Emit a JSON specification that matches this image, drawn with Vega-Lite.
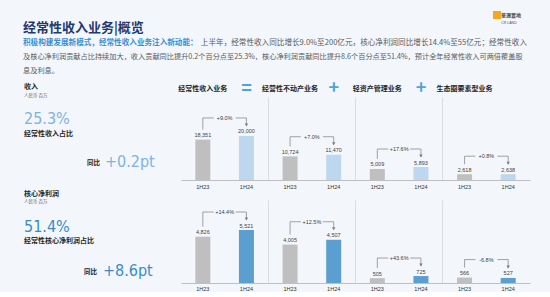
{
  "$schema": "https://vega.github.io/schema/vega-lite/v6.json",
  "background": "#F3F7FC",
  "padding": 0,
  "bounds": "flush",
  "spacing": 20,
  "config": {"view": {"stroke": null}, "font": "Noto Sans CJK SC"},
  "datasets": {
    "header": [
      {"role": "title", "line": "title", "col": "left", "text": "经常性收入业务|概览"},
      {"role": "lead", "line": "p1", "col": "left", "text": "积极构建发展新模式，经常性收入业务注入新动能："},
      {"role": "p1rest", "line": "p1", "col": "right", "text": "上半年，经常性收入同比增长9.0%至200亿元，核心净利润同比增长14.4%至55亿元；经常性收入"},
      {"role": "body", "line": "p2", "col": "left", "text": "及核心净利润贡献占比持续加大，收入贡献同比提升0.2个百分点至25.3%，核心净利润贡献同比提升8.6个百分点至51.4%，预计全年经常性收入可两倍覆盖股"},
      {"role": "body", "line": "p3", "col": "left", "text": "息及利息。"},
      {"role": "logoMark", "line": "logo", "col": "right", "text": ""},
      {"role": "logoText", "line": "logo", "col": "right", "text": "華潤置地"},
      {"role": "logoSub", "line": "logo", "col": "right", "text": "CR LAND"}
    ],
    "left": [
      {"metric": "收入", "role": "head", "line": "head", "col": "main", "text": "收入"},
      {"metric": "收入", "role": "unit", "line": "unit", "col": "main", "text": "人民币 百万"},
      {"metric": "收入", "role": "share", "line": "share", "col": "main", "text": "25.3%"},
      {"metric": "收入", "role": "shareLabel", "line": "shareLabel", "col": "main", "text": "经常性收入占比"},
      {"metric": "收入", "role": "yoyLabel", "line": "yoy", "col": "yoy", "text": "同比"},
      {"metric": "收入", "role": "yoy", "line": "yoy", "col": "yoy", "text": "+0.2pt"},
      {"metric": "核心净利润", "role": "head", "line": "head", "col": "main", "text": "核心净利润"},
      {"metric": "核心净利润", "role": "unit", "line": "unit", "col": "main", "text": "人民币 百万"},
      {"metric": "核心净利润", "role": "share", "line": "share", "col": "main", "text": "51.4%"},
      {"metric": "核心净利润", "role": "shareLabel", "line": "shareLabel", "col": "main", "text": "经常性核心净利润占比"},
      {"metric": "核心净利润", "role": "yoyLabel", "line": "yoy", "col": "yoy", "text": "同比"},
      {"metric": "核心净利润", "role": "yoy", "line": "yoy", "col": "yoy", "text": "+8.6pt"}
    ],
    "bars": [
      {"metric": "收入", "seg": "经常性收入业务", "period": "1H23", "slot": "经常性收入业务|1H23", "value": 18351},
      {"metric": "收入", "seg": "经常性收入业务", "period": "1H24", "slot": "经常性收入业务|1H24", "value": 20000},
      {"metric": "收入", "seg": "经营性不动产业务", "period": "1H23", "slot": "经营性不动产业务|1H23", "value": 10724},
      {"metric": "收入", "seg": "经营性不动产业务", "period": "1H24", "slot": "经营性不动产业务|1H24", "value": 11470},
      {"metric": "收入", "seg": "轻资产管理业务", "period": "1H23", "slot": "轻资产管理业务|1H23", "value": 5009},
      {"metric": "收入", "seg": "轻资产管理业务", "period": "1H24", "slot": "轻资产管理业务|1H24", "value": 5893},
      {"metric": "收入", "seg": "生态圈要素型业务", "period": "1H23", "slot": "生态圈要素型业务|1H23", "value": 2618},
      {"metric": "收入", "seg": "生态圈要素型业务", "period": "1H24", "slot": "生态圈要素型业务|1H24", "value": 2638},
      {"metric": "核心净利润", "seg": "经常性收入业务", "period": "1H23", "slot": "经常性收入业务|1H23", "value": 4826},
      {"metric": "核心净利润", "seg": "经常性收入业务", "period": "1H24", "slot": "经常性收入业务|1H24", "value": 5521},
      {"metric": "核心净利润", "seg": "经营性不动产业务", "period": "1H23", "slot": "经营性不动产业务|1H23", "value": 4005},
      {"metric": "核心净利润", "seg": "经营性不动产业务", "period": "1H24", "slot": "经营性不动产业务|1H24", "value": 4507},
      {"metric": "核心净利润", "seg": "轻资产管理业务", "period": "1H23", "slot": "轻资产管理业务|1H23", "value": 505},
      {"metric": "核心净利润", "seg": "轻资产管理业务", "period": "1H24", "slot": "轻资产管理业务|1H24", "value": 725},
      {"metric": "核心净利润", "seg": "生态圈要素型业务", "period": "1H23", "slot": "生态圈要素型业务|1H23", "value": 566},
      {"metric": "核心净利润", "seg": "生态圈要素型业务", "period": "1H24", "slot": "生态圈要素型业务|1H24", "value": 527}
    ],
    "brackets": [
      {"metric": "收入", "seg": "经常性收入业务", "from": "经常性收入业务|1H23", "to": "经常性收入业务|1H24", "v23": 18351, "v24": 20000, "top": 20000, "pct": "+9.0%"},
      {"metric": "收入", "seg": "经营性不动产业务", "from": "经营性不动产业务|1H23", "to": "经营性不动产业务|1H24", "v23": 10724, "v24": 11470, "top": 11470, "pct": "+7.0%"},
      {"metric": "收入", "seg": "轻资产管理业务", "from": "轻资产管理业务|1H23", "to": "轻资产管理业务|1H24", "v23": 5009, "v24": 5893, "top": 5893, "pct": "+17.6%"},
      {"metric": "收入", "seg": "生态圈要素型业务", "from": "生态圈要素型业务|1H23", "to": "生态圈要素型业务|1H24", "v23": 2618, "v24": 2638, "top": 2638, "pct": "+0.8%"},
      {"metric": "核心净利润", "seg": "经常性收入业务", "from": "经常性收入业务|1H23", "to": "经常性收入业务|1H24", "v23": 4826, "v24": 5521, "top": 5521, "pct": "+14.4%"},
      {"metric": "核心净利润", "seg": "经营性不动产业务", "from": "经营性不动产业务|1H23", "to": "经营性不动产业务|1H24", "v23": 4005, "v24": 4507, "top": 4507, "pct": "+12.5%"},
      {"metric": "核心净利润", "seg": "轻资产管理业务", "from": "轻资产管理业务|1H23", "to": "轻资产管理业务|1H24", "v23": 505, "v24": 725, "top": 725, "pct": "+43.6%"},
      {"metric": "核心净利润", "seg": "生态圈要素型业务", "from": "生态圈要素型业务|1H23", "to": "生态圈要素型业务|1H24", "v23": 566, "v24": 527, "top": 566, "pct": "-6.8%"}
    ]
  },
  "vconcat": [
    {
      "width": 550,
      "height": 77,
      "data": {"name": "header"},
      "encoding": {
        "x": {"field": "col", "type": "nominal", "scale": {"type": "point", "domain": ["left", "right"], "range": [23, 527], "padding": 0}, "axis": null},
        "y": {"field": "line", "type": "nominal", "scale": {"type": "point", "domain": ["logo", "title", "p1", "p2", "p3"], "range": [15, 71], "padding": 0}, "axis": null}
      },
      "layer": [
        {"transform": [{"filter": "datum.role==='title'"}], "mark": {"type": "text", "align": "left", "baseline": "middle", "fontSize": 13, "fontWeight": "bold", "color": "#1F3A70", "dy": -1.5}, "encoding": {"text": {"field": "text"}}},
        {"transform": [{"filter": "datum.role==='lead'"}], "mark": {"type": "text", "align": "left", "baseline": "middle", "fontSize": 7.6, "fontWeight": "bold", "color": "#3B8ED0"}, "encoding": {"text": {"field": "text"}}},
        {"transform": [{"filter": "datum.role==='p1rest'"}], "mark": {"type": "text", "align": "right", "baseline": "middle", "fontSize": 7.6, "color": "#595959"}, "encoding": {"text": {"field": "text"}}},
        {"transform": [{"filter": "datum.role==='body'"}], "mark": {"type": "text", "align": "left", "baseline": "middle", "fontSize": 7.2, "color": "#595959"}, "encoding": {"text": {"field": "text"}}},
        {"transform": [{"filter": "datum.role==='logoMark'"}], "mark": {"type": "point", "shape": "square", "filled": true, "size": 64, "color": "#F5A623", "opacity": 1, "xOffset": -30}},
        {"transform": [{"filter": "datum.role==='logoText'"}], "mark": {"type": "text", "align": "right", "baseline": "middle", "fontSize": 5, "fontWeight": "bold", "color": "#4D4D4D", "dx": -6}, "encoding": {"text": {"field": "text"}}},
        {"transform": [{"filter": "datum.role==='logoSub'"}], "mark": {"type": "text", "align": "center", "baseline": "middle", "fontSize": 3.5, "font": "Liberation Sans", "color": "#4D4D4D", "dx": -18, "dy": 8}, "encoding": {"text": {"field": "text"}}}
      ]
    },
    {
      "width": 530,
      "height": 83,
      "resolve": {"scale": {"x": "independent", "y": "independent", "color": "independent"}},
      "layer": [
        {
          "data": {"name": "left"},
          "transform": [{"filter": "datum.metric==='收入'"}],
          "encoding": {
            "x": {"field": "col", "type": "nominal", "scale": {"type": "point", "domain": ["main", "yoy"], "range": [24, 105], "padding": 0}, "axis": null},
            "y": {"field": "line", "type": "nominal", "scale": {"type": "point", "domain": ["head", "unit", "s1", "s2", "s3", "share", "s4", "shareLabel", "s5", "s6", "s7", "s8", "yoy"], "range": [-8.5, 65], "padding": 0}, "axis": null}
          },
          "layer": [
            {"transform": [{"filter": "datum.role==='head'"}], "mark": {"type": "text", "align": "left", "baseline": "middle", "fontSize": 7, "fontWeight": "bold", "color": "#262626", "dy": -1.5}, "encoding": {"text": {"field": "text"}}},
            {"transform": [{"filter": "datum.role==='unit'"}], "mark": {"type": "text", "align": "left", "baseline": "middle", "fontSize": 4.5, "color": "#595959", "dy": 1}, "encoding": {"text": {"field": "text"}}},
            {"transform": [{"filter": "datum.role==='share'"}], "mark": {"type": "text", "align": "left", "baseline": "middle", "fontSize": 16, "font": "Liberation Sans Narrow, DejaVu Sans Condensed, Roboto, sans-serif", "color": "#7FB2DF"}, "encoding": {"text": {"field": "text"}}},
            {"transform": [{"filter": "datum.role==='shareLabel'"}], "mark": {"type": "text", "align": "left", "baseline": "middle", "fontSize": 7, "fontWeight": "bold", "color": "#262626", "dy": 3}, "encoding": {"text": {"field": "text"}}},
            {"transform": [{"filter": "datum.role==='yoyLabel'"}], "mark": {"type": "text", "align": "right", "baseline": "middle", "fontSize": 6.5, "fontWeight": "bold", "color": "#262626", "dx": -5, "dy": 1}, "encoding": {"text": {"field": "text"}}},
            {"transform": [{"filter": "datum.role==='yoy'"}], "mark": {"type": "text", "align": "left", "baseline": "middle", "fontSize": 16, "font": "Liberation Sans Narrow, DejaVu Sans Condensed, Roboto, sans-serif", "color": "#7FB2DF"}, "encoding": {"text": {"field": "text"}}}
          ]
        },
        {
          "data": {"name": "bars"},
          "transform": [{"filter": "datum.metric==='收入'"}],
          "mark": {"type": "bar", "width": 15},
          "encoding": {
            "x": {"field": "slot", "type": "nominal", "scale": {"type": "band", "domain": ["经常性收入业务|1H23", "经常性收入业务|1H24", "经营性不动产业务|1H23", "经营性不动产业务|1H24", "轻资产管理业务|1H23", "轻资产管理业务|1H24", "生态圈要素型业务|1H23", "生态圈要素型业务|1H24"], "range": [181, 530], "paddingInner": 0, "paddingOuter": 0},
              "axis": {"orient": "bottom", "title": null, "labelExpr": "split(datum.value,'|')[1]", "labelAngle": 0, "labelFont": "Liberation Sans", "labelFontSize": 5.5, "labelColor": "#333333", "labelPadding": 4, "ticks": false, "tickSize": 0, "domainColor": "#BFBFBF", "domainWidth": 1, "grid": false}},
            "y": {"field": "value", "type": "quantitative", "scale": {"domain": [0, 37700], "nice": false}, "axis": null},
            "color": {"field": "period", "type": "nominal", "scale": {"domain": ["1H23", "1H24"], "range": ["#BFBFBF", "#BDD7EE"]}, "legend": null}
          }
        },
        {
          "data": {"name": "bars"},
          "transform": [{"filter": "datum.metric==='收入'"}],
          "mark": {"type": "text", "baseline": "middle", "dy": -4.5, "fontSize": 5.5, "font": "Liberation Sans", "color": "#404040"},
          "encoding": {
            "x": {"field": "slot", "type": "nominal", "scale": {"type": "band", "domain": ["经常性收入业务|1H23", "经常性收入业务|1H24", "经营性不动产业务|1H23", "经营性不动产业务|1H24", "轻资产管理业务|1H23", "轻资产管理业务|1H24", "生态圈要素型业务|1H23", "生态圈要素型业务|1H24"], "range": [181, 530], "paddingInner": 0, "paddingOuter": 0},
              "axis": {"orient": "top", "bandPosition": 1, "title": null, "domain": false, "ticks": false, "tickSize": 0,
                "labelExpr": "indexof(datum.value,'1H23')>=0 ? split(datum.value,'|')[0] : (indexof(datum.value,'经常性收入业务')==0 ? '=' : (indexof(datum.value,'生态圈')==0 ? '' : '+'))",
                "labelAngle": 0, "labelBaseline": "middle", "labelPadding": 9, "labelFont": "Noto Sans CJK SC", "labelFontWeight": "bold",
                "labelFontSize": {"condition": {"test": "indexof(datum.value,'1H24')>=0", "value": 18}, "value": 7},
                "labelColor": {"condition": {"test": "indexof(datum.value,'1H24')>=0", "value": "#4DA3DB"}, "value": "#262626"},
                "labelOverlap": false, "labelBound": false, "labelFlush": false,
                "grid": true, "gridColor": "#D3D7DC", "gridWidth": 0.8,
                "gridOpacity": {"condition": {"test": "indexof(datum.value,'1H24')>=0 && indexof(datum.value,'生态圈')<0", "value": 1}, "value": 0}}},
            "y": {"field": "value", "type": "quantitative", "scale": {"domain": [0, 37700], "nice": false}, "axis": null},
            "text": {"field": "value", "type": "quantitative", "format": ","}
          }
        },
        {
          "data": {"name": "brackets"},
          "transform": [{"filter": "datum.metric==='收入'"}],
          "mark": {"type": "rule", "color": "#8C8C8C", "strokeWidth": 0.8, "yOffset": -10, "y2Offset": -18},
          "encoding": {
            "x": {"field": "from", "type": "nominal", "scale": {"type": "band", "domain": ["经常性收入业务|1H23", "经常性收入业务|1H24", "经营性不动产业务|1H23", "经营性不动产业务|1H24", "轻资产管理业务|1H23", "轻资产管理业务|1H24", "生态圈要素型业务|1H23", "生态圈要素型业务|1H24"], "range": [181, 530], "paddingInner": 0, "paddingOuter": 0}, "axis": null},
            "y": {"field": "v23", "type": "quantitative", "scale": {"domain": [0, 37700], "nice": false}, "axis": null},
            "y2": {"field": "top"}
          }
        },
        {
          "data": {"name": "brackets"},
          "transform": [{"filter": "datum.metric==='收入'"}],
          "mark": {"type": "rule", "color": "#8C8C8C", "strokeWidth": 0.8, "yOffset": -10, "y2Offset": -18},
          "encoding": {
            "x": {"field": "to", "type": "nominal", "scale": {"type": "band", "domain": ["经常性收入业务|1H23", "经常性收入业务|1H24", "经营性不动产业务|1H23", "经营性不动产业务|1H24", "轻资产管理业务|1H23", "轻资产管理业务|1H24", "生态圈要素型业务|1H23", "生态圈要素型业务|1H24"], "range": [181, 530], "paddingInner": 0, "paddingOuter": 0}, "axis": null},
            "y": {"field": "v24", "type": "quantitative", "scale": {"domain": [0, 37700], "nice": false}, "axis": null},
            "y2": {"field": "top"}
          }
        },
        {
          "data": {"name": "brackets"},
          "transform": [{"filter": "datum.metric==='收入'"}],
          "mark": {"type": "rule", "color": "#8C8C8C", "strokeWidth": 0.8, "yOffset": -18},
          "encoding": {
            "x": {"field": "from", "type": "nominal", "scale": {"type": "band", "domain": ["经常性收入业务|1H23", "经常性收入业务|1H24", "经营性不动产业务|1H23", "经营性不动产业务|1H24", "轻资产管理业务|1H23", "轻资产管理业务|1H24", "生态圈要素型业务|1H23", "生态圈要素型业务|1H24"], "range": [181, 530], "paddingInner": 0, "paddingOuter": 0}, "axis": null},
            "x2": {"field": "to"},
            "y": {"field": "top", "type": "quantitative", "scale": {"domain": [0, 37700], "nice": false}, "axis": null}
          }
        },
        {
          "data": {"name": "brackets"},
          "transform": [{"filter": "datum.metric==='收入'"}],
          "mark": {"type": "point", "shape": "triangle-down", "filled": true, "size": 12, "color": "#7F7F7F", "opacity": 1, "yOffset": -11},
          "encoding": {
            "x": {"field": "to", "type": "nominal", "scale": {"type": "band", "domain": ["经常性收入业务|1H23", "经常性收入业务|1H24", "经营性不动产业务|1H23", "经营性不动产业务|1H24", "轻资产管理业务|1H23", "轻资产管理业务|1H24", "生态圈要素型业务|1H23", "生态圈要素型业务|1H24"], "range": [181, 530], "paddingInner": 0, "paddingOuter": 0}, "axis": null},
            "y": {"field": "v24", "type": "quantitative", "scale": {"domain": [0, 37700], "nice": false}, "axis": null}
          }
        },
        {
          "data": {"name": "brackets"},
          "transform": [{"filter": "datum.metric==='收入'"}],
          "mark": {"type": "point", "shape": "M-1,-0.3L1,-0.3L1,0.3L-1,0.3Z", "filled": true, "size": 484, "color": "#F3F7FC", "opacity": 1, "yOffset": -18},
          "encoding": {
            "x": {"field": "from", "type": "nominal", "bandPosition": 1, "scale": {"type": "band", "domain": ["经常性收入业务|1H23", "经常性收入业务|1H24", "经营性不动产业务|1H23", "经营性不动产业务|1H24", "轻资产管理业务|1H23", "轻资产管理业务|1H24", "生态圈要素型业务|1H23", "生态圈要素型业务|1H24"], "range": [181, 530], "paddingInner": 0, "paddingOuter": 0}, "axis": null},
            "y": {"field": "top", "type": "quantitative", "scale": {"domain": [0, 37700], "nice": false}, "axis": null}
          }
        },
        {
          "data": {"name": "brackets"},
          "transform": [{"filter": "datum.metric==='收入'"}],
          "mark": {"type": "text", "baseline": "middle", "dy": -18, "fontSize": 5.5, "font": "Liberation Sans", "color": "#404040"},
          "encoding": {
            "x": {"field": "from", "type": "nominal", "bandPosition": 1, "scale": {"type": "band", "domain": ["经常性收入业务|1H23", "经常性收入业务|1H24", "经营性不动产业务|1H23", "经营性不动产业务|1H24", "轻资产管理业务|1H23", "轻资产管理业务|1H24", "生态圈要素型业务|1H23", "生态圈要素型业务|1H24"], "range": [181, 530], "paddingInner": 0, "paddingOuter": 0}, "axis": null},
            "y": {"field": "top", "type": "quantitative", "scale": {"domain": [0, 37700], "nice": false}, "axis": null},
            "text": {"field": "pct"}
          }
        }
      ]
    },
    {
      "width": 530,
      "height": 83,
      "resolve": {"scale": {"x": "independent", "y": "independent", "color": "independent"}},
      "layer": [
        {
          "data": {"name": "left"},
          "transform": [{"filter": "datum.metric==='核心净利润'"}],
          "encoding": {
            "x": {"field": "col", "type": "nominal", "scale": {"type": "point", "domain": ["main", "yoy"], "range": [24, 103], "padding": 0}, "axis": null},
            "y": {"field": "line", "type": "nominal", "scale": {"type": "point", "domain": ["head", "unit", "s1", "s2", "s3", "share", "s4", "shareLabel", "s5", "s6", "s7", "s8", "yoy"], "range": [-5, 71], "padding": 0}, "axis": null}
          },
          "layer": [
            {"transform": [{"filter": "datum.role==='head'"}], "mark": {"type": "text", "align": "left", "baseline": "middle", "fontSize": 7, "fontWeight": "bold", "color": "#262626", "dy": -1.5}, "encoding": {"text": {"field": "text"}}},
            {"transform": [{"filter": "datum.role==='unit'"}], "mark": {"type": "text", "align": "left", "baseline": "middle", "fontSize": 4.5, "color": "#595959", "dy": 1}, "encoding": {"text": {"field": "text"}}},
            {"transform": [{"filter": "datum.role==='share'"}], "mark": {"type": "text", "align": "left", "baseline": "middle", "fontSize": 16, "font": "Liberation Sans Narrow, DejaVu Sans Condensed, Roboto, sans-serif", "color": "#3A8BCB"}, "encoding": {"text": {"field": "text"}}},
            {"transform": [{"filter": "datum.role==='shareLabel'"}], "mark": {"type": "text", "align": "left", "baseline": "middle", "fontSize": 7, "fontWeight": "bold", "color": "#262626", "dy": 2}, "encoding": {"text": {"field": "text"}}},
            {"transform": [{"filter": "datum.role==='yoyLabel'"}], "mark": {"type": "text", "align": "right", "baseline": "middle", "fontSize": 6.5, "fontWeight": "bold", "color": "#262626", "dx": -6, "dy": 1}, "encoding": {"text": {"field": "text"}}},
            {"transform": [{"filter": "datum.role==='yoy'"}], "mark": {"type": "text", "align": "left", "baseline": "middle", "fontSize": 16, "font": "Liberation Sans Narrow, DejaVu Sans Condensed, Roboto, sans-serif", "color": "#3A8BCB"}, "encoding": {"text": {"field": "text"}}}
          ]
        },
        {
          "data": {"name": "bars"},
          "transform": [{"filter": "datum.metric==='核心净利润'"}],
          "mark": {"type": "bar", "width": 15},
          "encoding": {
            "x": {"field": "slot", "type": "nominal", "scale": {"type": "band", "domain": ["经常性收入业务|1H23", "经常性收入业务|1H24", "经营性不动产业务|1H23", "经营性不动产业务|1H24", "轻资产管理业务|1H23", "轻资产管理业务|1H24", "生态圈要素型业务|1H23", "生态圈要素型业务|1H24"], "range": [181, 530], "paddingInner": 0, "paddingOuter": 0},
              "axis": {"orient": "bottom", "title": null, "labelExpr": "split(datum.value,'|')[1]", "labelAngle": 0, "labelFont": "Liberation Sans", "labelFontSize": 5.5, "labelColor": "#333333", "labelPadding": 3.5, "ticks": false, "tickSize": 0, "domainColor": "#BFBFBF", "domainWidth": 1, "grid": false}},
            "y": {"field": "value", "type": "quantitative", "scale": {"domain": [0, 8650], "nice": false}, "axis": null},
            "color": {"field": "period", "type": "nominal", "scale": {"domain": ["1H23", "1H24"], "range": ["#BFBFBF", "#5B9FD0"]}, "legend": null}
          }
        },
        {
          "data": {"name": "bars"},
          "transform": [{"filter": "datum.metric==='核心净利润'"}],
          "mark": {"type": "text", "baseline": "middle", "dy": -4.5, "fontSize": 5.5, "font": "Liberation Sans", "color": "#404040"},
          "encoding": {
            "x": {"field": "slot", "type": "nominal", "scale": {"type": "band", "domain": ["经常性收入业务|1H23", "经常性收入业务|1H24", "经营性不动产业务|1H23", "经营性不动产业务|1H24", "轻资产管理业务|1H23", "轻资产管理业务|1H24", "生态圈要素型业务|1H23", "生态圈要素型业务|1H24"], "range": [181, 530], "paddingInner": 0, "paddingOuter": 0},
              "axis": {"orient": "top", "bandPosition": 1, "title": null, "domain": false, "ticks": false, "tickSize": 0, "labels": false,
                "grid": true, "gridColor": "#D3D7DC", "gridWidth": 0.8,
                "gridOpacity": {"condition": {"test": "indexof(datum.value,'1H24')>=0 && indexof(datum.value,'生态圈')<0", "value": 1}, "value": 0}}},
            "y": {"field": "value", "type": "quantitative", "scale": {"domain": [0, 8650], "nice": false}, "axis": null},
            "text": {"field": "value", "type": "quantitative", "format": ","}
          }
        },
        {
          "data": {"name": "brackets"},
          "transform": [{"filter": "datum.metric==='核心净利润'"}],
          "mark": {"type": "rule", "color": "#8C8C8C", "strokeWidth": 0.8, "yOffset": -10, "y2Offset": -18},
          "encoding": {
            "x": {"field": "from", "type": "nominal", "scale": {"type": "band", "domain": ["经常性收入业务|1H23", "经常性收入业务|1H24", "经营性不动产业务|1H23", "经营性不动产业务|1H24", "轻资产管理业务|1H23", "轻资产管理业务|1H24", "生态圈要素型业务|1H23", "生态圈要素型业务|1H24"], "range": [181, 530], "paddingInner": 0, "paddingOuter": 0}, "axis": null},
            "y": {"field": "v23", "type": "quantitative", "scale": {"domain": [0, 8650], "nice": false}, "axis": null},
            "y2": {"field": "top"}
          }
        },
        {
          "data": {"name": "brackets"},
          "transform": [{"filter": "datum.metric==='核心净利润'"}],
          "mark": {"type": "rule", "color": "#8C8C8C", "strokeWidth": 0.8, "yOffset": -10, "y2Offset": -18},
          "encoding": {
            "x": {"field": "to", "type": "nominal", "scale": {"type": "band", "domain": ["经常性收入业务|1H23", "经常性收入业务|1H24", "经营性不动产业务|1H23", "经营性不动产业务|1H24", "轻资产管理业务|1H23", "轻资产管理业务|1H24", "生态圈要素型业务|1H23", "生态圈要素型业务|1H24"], "range": [181, 530], "paddingInner": 0, "paddingOuter": 0}, "axis": null},
            "y": {"field": "v24", "type": "quantitative", "scale": {"domain": [0, 8650], "nice": false}, "axis": null},
            "y2": {"field": "top"}
          }
        },
        {
          "data": {"name": "brackets"},
          "transform": [{"filter": "datum.metric==='核心净利润'"}],
          "mark": {"type": "rule", "color": "#8C8C8C", "strokeWidth": 0.8, "yOffset": -18},
          "encoding": {
            "x": {"field": "from", "type": "nominal", "scale": {"type": "band", "domain": ["经常性收入业务|1H23", "经常性收入业务|1H24", "经营性不动产业务|1H23", "经营性不动产业务|1H24", "轻资产管理业务|1H23", "轻资产管理业务|1H24", "生态圈要素型业务|1H23", "生态圈要素型业务|1H24"], "range": [181, 530], "paddingInner": 0, "paddingOuter": 0}, "axis": null},
            "x2": {"field": "to"},
            "y": {"field": "top", "type": "quantitative", "scale": {"domain": [0, 8650], "nice": false}, "axis": null}
          }
        },
        {
          "data": {"name": "brackets"},
          "transform": [{"filter": "datum.metric==='核心净利润'"}],
          "mark": {"type": "point", "shape": "triangle-down", "filled": true, "size": 12, "color": "#7F7F7F", "opacity": 1, "yOffset": -11},
          "encoding": {
            "x": {"field": "to", "type": "nominal", "scale": {"type": "band", "domain": ["经常性收入业务|1H23", "经常性收入业务|1H24", "经营性不动产业务|1H23", "经营性不动产业务|1H24", "轻资产管理业务|1H23", "轻资产管理业务|1H24", "生态圈要素型业务|1H23", "生态圈要素型业务|1H24"], "range": [181, 530], "paddingInner": 0, "paddingOuter": 0}, "axis": null},
            "y": {"field": "v24", "type": "quantitative", "scale": {"domain": [0, 8650], "nice": false}, "axis": null}
          }
        },
        {
          "data": {"name": "brackets"},
          "transform": [{"filter": "datum.metric==='核心净利润'"}],
          "mark": {"type": "point", "shape": "M-1,-0.3L1,-0.3L1,0.3L-1,0.3Z", "filled": true, "size": 484, "color": "#F3F7FC", "opacity": 1, "yOffset": -18},
          "encoding": {
            "x": {"field": "from", "type": "nominal", "bandPosition": 1, "scale": {"type": "band", "domain": ["经常性收入业务|1H23", "经常性收入业务|1H24", "经营性不动产业务|1H23", "经营性不动产业务|1H24", "轻资产管理业务|1H23", "轻资产管理业务|1H24", "生态圈要素型业务|1H23", "生态圈要素型业务|1H24"], "range": [181, 530], "paddingInner": 0, "paddingOuter": 0}, "axis": null},
            "y": {"field": "top", "type": "quantitative", "scale": {"domain": [0, 8650], "nice": false}, "axis": null}
          }
        },
        {
          "data": {"name": "brackets"},
          "transform": [{"filter": "datum.metric==='核心净利润'"}],
          "mark": {"type": "text", "baseline": "middle", "dy": -18, "fontSize": 5.5, "font": "Liberation Sans", "color": "#404040"},
          "encoding": {
            "x": {"field": "from", "type": "nominal", "bandPosition": 1, "scale": {"type": "band", "domain": ["经常性收入业务|1H23", "经常性收入业务|1H24", "经营性不动产业务|1H23", "经营性不动产业务|1H24", "轻资产管理业务|1H23", "轻资产管理业务|1H24", "生态圈要素型业务|1H23", "生态圈要素型业务|1H24"], "range": [181, 530], "paddingInner": 0, "paddingOuter": 0}, "axis": null},
            "y": {"field": "top", "type": "quantitative", "scale": {"domain": [0, 8650], "nice": false}, "axis": null},
            "text": {"field": "pct"}
          }
        }
      ]
    }
  ]
}
